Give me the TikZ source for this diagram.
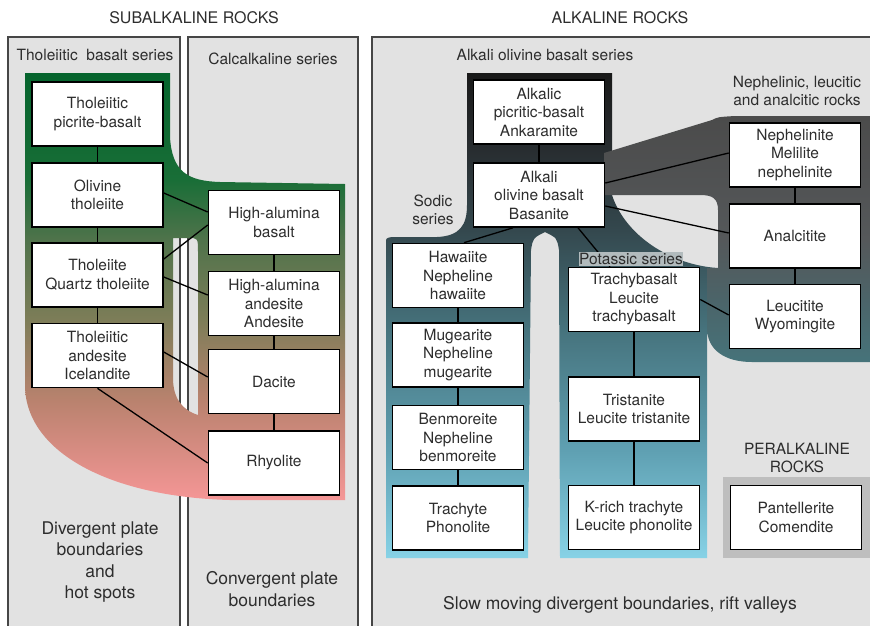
\documentclass[tikz,border=0pt]{standalone}
\usepackage{fontspec}
\setmainfont{TeX Gyre Heros}
\usetikzlibrary{positioning}

\definecolor{panelgray}{RGB}{226,226,226}
\definecolor{panelline}{RGB}{70,70,70}
\definecolor{inkgray}{RGB}{45,45,45}
\definecolor{peralkgray}{RGB}{190,190,190}
\definecolor{potgray}{RGB}{178,187,189}

% subalkaline band, green to pink
\definecolor{sub0}{RGB}{5,100,45}
\definecolor{sub1}{RGB}{25,110,55}
\definecolor{sub2}{RGB}{80,115,75}
\definecolor{sub3}{RGB}{125,125,88}
\definecolor{sub4}{RGB}{185,130,110}
\definecolor{sub5}{RGB}{245,150,150}
\pgfdeclareverticalshading{subband}{100bp}{color(0bp)=(sub5); color(25bp)=(sub5);
  color(36.7bp)=(sub4); color(46.1bp)=(sub3); color(55.4bp)=(sub2);
  color(62.5bp)=(sub1); color(75bp)=(sub0); color(100bp)=(sub0)}

% alkali basalt band, black to light blue
\definecolor{alk0}{RGB}{25,25,25}
\definecolor{alk1}{RGB}{40,45,48}
\definecolor{alk2}{RGB}{52,72,78}
\definecolor{alk3}{RGB}{70,115,125}
\definecolor{alk4}{RGB}{95,160,178}
\definecolor{alk5}{RGB}{135,210,230}
\pgfdeclareverticalshading{alkband}{100bp}{color(0bp)=(alk5); color(25bp)=(alk5);
  color(36.1bp)=(alk4); color(48.5bp)=(alk3); color(58.8bp)=(alk2);
  color(67.1bp)=(alk1); color(75bp)=(alk0); color(100bp)=(alk0)}

% nephelinic branch, grey to teal
\definecolor{nep0}{RGB}{75,75,75}
\definecolor{nep1}{RGB}{85,88,90}
\definecolor{nep2}{RGB}{75,100,105}
\definecolor{nep3}{RGB}{70,115,122}
\pgfdeclareverticalshading{nepband}{100bp}{color(0bp)=(nep3); color(25bp)=(nep3);
  color(37.6bp)=(nep2); color(49.8bp)=(nep1); color(75bp)=(nep0); color(100bp)=(nep0)}

\newcommand\rocktext{\fontsize{15.5}{18.5}\selectfont}
\newcommand\titletext{\fontsize{16}{19}\selectfont}
\newcommand\basetext{\fontsize{17.5}{21.5}\selectfont}

\begin{document}
\begin{tikzpicture}[x=1pt,y=-1pt,
  rock/.style={draw=black,line width=1.6pt,fill=white,minimum width=131pt,minimum height=64pt,
    inner sep=0pt,align=center,text=inkgray,font=\rocktext},
  link/.style={line width=1.3pt},
  panel/.style={fill=panelgray,draw=panelline,line width=1.4pt},
  caption/.style={text=inkgray,align=center,font=\rocktext},
  heading/.style={text=inkgray,align=center,font=\titletext},
  setting/.style={text=inkgray,align=center,font=\basetext}]
\useasboundingbox (0,0) rectangle (870,625);
\fill[white] (0,0) rectangle (870,625);

% tectonic panels
\draw[panel] (8,37) rectangle (180,640);
\draw[panel] (188,37) rectangle (358,640);
\draw[panel] (372,37) rectangle (885,640);

% subalkaline band with the gap between the two series
\shade[shading=subband,even odd rule]
  (25,73) -- (170,73) -- (170,137) .. controls (172,172) and (188,181) .. (220,182)
  -- (345,184) -- (345,500) -- (230,500) .. controls (110,497) and (25,452) .. (25,385) -- cycle
  (173,238) -- (188,238) .. controls (198,238) .. (198,252) -- (198,415)
  .. controls (182,410) and (173,398) .. (173,378) -- cycle;

% alkali olivine basalt band, sodic and potassic branches
\shade[shading=alkband]
  (467,73) -- (612,73) -- (612,195) .. controls (625,235) and (670,265) .. (718,268)
  -- (718,320) -- (707,335) -- (707,558) -- (560,558) -- (559,250)
  .. controls (557,238) .. (545,232) .. controls (533,238) .. (531,250) -- (528,558)
  -- (386,558) -- (386,243) .. controls (386,238) .. (392,237) -- (437,237)
  .. controls (460,236) and (467,225) .. (467,205) -- cycle;

% nephelinic branch
\shade[shading=nepband]
  (604,153) -- (712,120) .. controls (718,117) .. (735,116) -- (885,116) -- (885,362)
  -- (752,362) .. controls (725,362) and (707,350) .. (707,328) -- (707,268) -- (718,268)
  -- (718,210) .. controls (718,198) and (712,195) .. (700,195) -- (604,195) -- cycle;

\fill[peralkgray] (723,477) rectangle (885,558);

% subalkaline rocks
\node[rock] (tpb) at (97.5,114) {Tholeiitic\\picrite-basalt};
\node[rock] (otl) at (97.5,195) {Olivine\\tholeiite};
\node[rock] (qtl) at (97.5,275) {Tholeiite\\Quartz tholeiite};
\node[rock] (ice) at (97.5,355.5) {Tholeiitic\\andesite\\Icelandite};
\node[rock] (hab) at (274,222.5) {High-alumina\\basalt};
\node[rock] (haa) at (274,303.5) {High-alumina\\andesite\\Andesite};
\node[rock] (dac) at (274,381.5) {Dacite};
\node[rock] (rhy) at (274,463) {Rhyolite};

% alkaline rocks
\node[rock] (akp) at (539,112) {Alkalic\\picritic-basalt\\Ankaramite};
\node[rock] (aob) at (539,195) {Alkali\\olivine basalt\\Basanite};
\node[rock] (nep) at (795,155) {Nephelinite\\Melilite\\nephelinite};
\node[rock] (anl) at (795,236) {Analcitite};
\node[rock] (lct) at (795,316.5) {Leucitite\\Wyomingite};
\node[rock] (haw) at (458,275.5) {Hawaiite\\Nepheline\\hawaiite};
\node[rock] (mug) at (458,355) {Mugearite\\Nepheline\\mugearite};
\node[rock] (ben) at (458,437.5) {Benmoreite\\Nepheline\\benmoreite};
\node[rock] (trp) at (458,518) {Trachyte\\Phonolite};
\node[rock] (tbs) at (634,299.5) {Trachybasalt\\Leucite\\trachybasalt};
\node[rock] (tri) at (634,409) {Tristanite\\Leucite tristanite};
\node[rock] (krt) at (634,517.5) {K-rich trachyte\\Leucite phonolite};
\node[rock] (pan) at (796,517.5) {Pantellerite\\Comendite};

% links
\draw[link] (tpb) -- (otl);
\draw[link] (otl) -- (qtl);
\draw[link] (qtl) -- (ice);
\draw[link] (hab) -- (haa);
\draw[link] (haa) -- (dac);
\draw[link] (dac) -- (rhy);
\draw[link] ([yshift=2pt]otl.east) -- ([yshift=10.5pt]hab.west);
\draw[link] ([yshift=16pt]qtl.east) -- ([yshift=-2.5pt]hab.west);
\draw[link] ([yshift=-2pt]qtl.east) -- ([yshift=8.5pt]haa.west);
\draw[link] ([yshift=3.5pt]ice.east) -- ([yshift=4.5pt]dac.west);
\draw[link] (ice.south) -- (rhy.west);

\draw[link] (akp) -- (aob);
\draw[link] (nep) -- (anl);
\draw[link] (anl) -- (lct);
\draw[link] (haw) -- (mug);
\draw[link] (mug) -- (ben);
\draw[link] (ben) -- (trp);
\draw[link] (tbs) -- (tri);
\draw[link] (tri) -- (krt);
\draw[link] ([yshift=12pt]aob.east) -- ([yshift=2pt]nep.west);
\draw[link] ([yshift=-11pt]aob.east) -- ([yshift=3pt]anl.west);
\draw[link] ([xshift=-26pt]aob.south) -- ([xshift=6pt]haw.north);
\draw[link] ([xshift=39pt]aob.south) -- ([xshift=-24pt]tbs.north);
\draw[link] (tbs.east) -- ([yshift=1.5pt]lct.west);

% headings and series names
\node[heading] (subalk) at (194,18) {SUBALKALINE ROCKS};
\node[heading] (alk) at (620,18) {ALKALINE ROCKS};
\node[caption] (thol) at (95,55) {Tholeiitic\ \ basalt series};
\node[caption] (calc) at (273,59) {Calcalkaline series};
\node[caption] (aobs) at (545,55) {Alkali olivine basalt series};
\node[caption] (neph) at (797,91) {Nephelinic, leucitic\\and analcitic rocks};
\node[caption] (sodic) at (433,210) {Sodic\\series};
\node[caption,fill=potgray,inner xsep=0pt,inner ysep=1pt] (potas) at (631,259) {Potassic series};
\node[caption] (peralk) at (797,458) {PERALKALINE\\ROCKS};

% tectonic settings
\node[setting] (div) at (100,562) {Divergent plate\\boundaries\\and\\hot spots};
\node[setting] (conv) at (272,589) {Convergent plate\\boundaries};
\node[setting] (rift) at (620,605) {Slow moving divergent boundaries, rift valleys};
\end{tikzpicture}
\end{document}
